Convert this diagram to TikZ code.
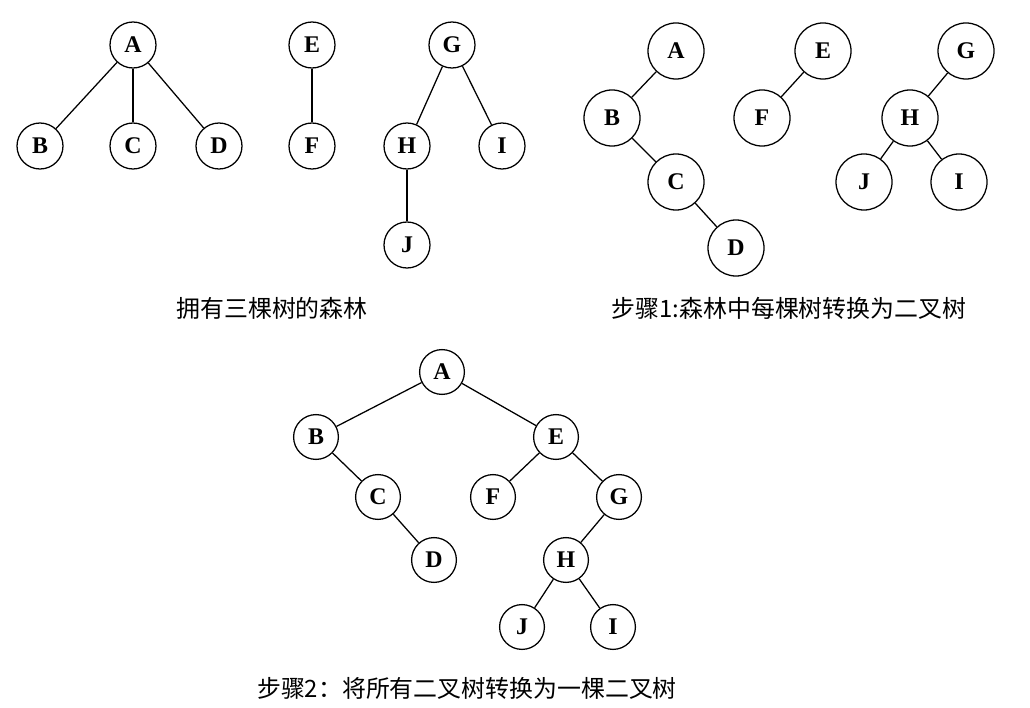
\documentclass[tikz,border=0pt]{standalone}
\usepackage{fontspec}
\setmainfont{Liberation Serif}
\newfontfamily\cjk{Noto Sans CJK SC}
\usepackage{tikz}
\usetikzlibrary{positioning}

\begin{document}
\begin{tikzpicture}[x=0.025cm, y=-0.025cm,
    nd/.style={draw, circle, line width=0.9pt, minimum size=1.15cm,
               inner sep=0pt, font=\fontsize{17}{17}\selectfont\bfseries},
    ndbig/.style={nd, minimum size=1.4cm},
    ndsm/.style={nd, minimum size=1.12cm},
    ln/.style={line width=0.9pt},
    lbl/.style={font=\cjk\fontsize{17}{17}\selectfont}
  ]
    \useasboundingbox (0,0) rectangle (1030,708);

    % forest of three trees
    \node[nd] (a1) at (133,45)  {A};
    \node[nd] (b1) at (40,146)  {B};
    \node[nd] (c1) at (133,146) {C};
    \node[nd] (d1) at (219,146) {D};
    \node[nd] (e1) at (312,45)  {E};
    \node[nd] (f1) at (312,146) {F};
    \node[nd] (g1) at (452,45)  {G};
    \node[nd] (h1) at (407,146) {H};
    \node[nd] (i1) at (502,146) {I};
    \node[nd] (j1) at (407,245) {J};

    \draw[ln] (a1) -- (b1);
    \draw[ln] (a1) -- (c1);
    \draw[ln] (a1) -- (d1);
    \draw[ln] (e1) -- (f1);
    \draw[ln] (g1) -- (h1);
    \draw[ln] (g1) -- (i1);
    \draw[ln] (h1) -- (j1);

    \node[lbl] (t1) at (272,308) {拥有三棵树的森林};

    % step 1
    \node[ndbig] (a2) at (676,51)  {A};
    \node[ndbig] (b2) at (612,118) {B};
    \node[ndbig] (c2) at (676,182) {C};
    \node[ndbig] (d2) at (736,248) {D};
    \node[ndbig] (e2) at (823,51)  {E};
    \node[ndbig] (f2) at (762,118) {F};
    \node[ndbig] (g2) at (966,51)  {G};
    \node[ndbig] (h2) at (910,118) {H};
    \node[ndbig] (j2) at (864,182) {J};
    \node[ndbig] (i2) at (959,182) {I};

    \draw[ln] (a2) -- (b2);
    \draw[ln] (b2) -- (c2);
    \draw[ln] (c2) -- (d2);
    \draw[ln] (e2) -- (f2);
    \draw[ln] (g2) -- (h2);
    \draw[ln] (h2) -- (j2);
    \draw[ln] (h2) -- (i2);

    \node[lbl] (t2) at (789,308) {步骤1:森林中每棵树转换为二叉树};

    % step 2
    \node[ndsm] (a3) at (442,372) {A};
    \node[ndsm] (b3) at (316,437) {B};
    \node[ndsm] (c3) at (378,497) {C};
    \node[ndsm] (d3) at (434,560) {D};
    \node[ndsm] (e3) at (556,437) {E};
    \node[ndsm] (f3) at (493,497) {F};
    \node[ndsm] (g3) at (619,497) {G};
    \node[ndsm] (h3) at (566,560) {H};
    \node[ndsm] (j3) at (522,627) {J};
    \node[ndsm] (i3) at (613,627) {I};

    \draw[ln] (a3) -- (b3);
    \draw[ln] (a3) -- (e3);
    \draw[ln] (b3) -- (c3);
    \draw[ln] (c3) -- (d3);
    \draw[ln] (e3) -- (f3);
    \draw[ln] (e3) -- (g3);
    \draw[ln] (g3) -- (h3);
    \draw[ln] (h3) -- (j3);
    \draw[ln] (h3) -- (i3);

    \node[lbl] (t3) at (467,688) {步骤2：将所有二叉树转换为一棵二叉树};
  \end{tikzpicture}
\end{document}
